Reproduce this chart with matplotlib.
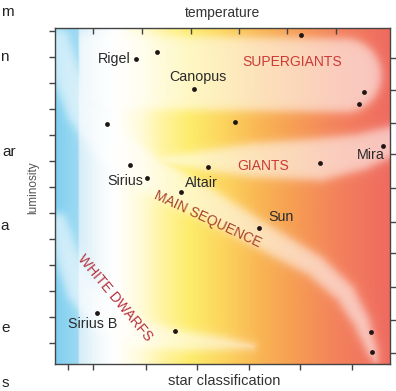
"""Hertzsprung-Russell style diagram: luminosity vs star classification."""
import matplotlib
matplotlib.use("Agg")
import matplotlib.pyplot as plt
import numpy as np
from matplotlib.colors import LinearSegmentedColormap

plt.rcParams["font.family"] = ["Liberation Sans", "DejaVu Sans"]

# stars: position on a 0..1 classification (x) / luminosity (y) scale
star_names = ["Rigel", "", "Canopus", "", "", "", "Sirius", "", "Altair", "",
              "", "", "Mira", "", "Sun", "", "", "Sirius B", ""]
star_x = [0.242, 0.304, 0.415, 0.155, 0.537, 0.224, 0.275, 0.457, 0.376, 0.734,
          0.922, 0.907, 0.979, 0.791, 0.609, 0.943, 0.946, 0.125, 0.358]
star_y = [0.908, 0.929, 0.818, 0.714, 0.720, 0.592, 0.554, 0.586, 0.512, 0.979,
          0.810, 0.774, 0.649, 0.598, 0.405, 0.095, 0.036, 0.152, 0.098]

region_names = ["SUPERGIANTS", "GIANTS", "MAIN SEQUENCE", "WHITE DWARFS"]

# label placement (offset in pixels, alignment) per named star
label_style = {
    "Rigel": ((-5, 0), "right"),
    "Canopus": ((4, 12), "center"),
    "Sirius": ((-4, -3), "right"),
    "Altair": ((4, 9), "left"),
    "Mira": ((2, -9), "right"),
    "Sun": ((9, 11), "left"),
    "Sirius B": ((-4, -11), "center"),
}

W, H = 396, 391
fig = plt.figure(figsize=(W / 100, H / 100), dpi=100)
ax = fig.add_axes([55 / W, 1 - 364 / H, 335 / W, 336 / H])

# background temperature gradient
stops = [(0.0, "#80cff0"), (0.063, "#9bd9f2"), (0.072, "#d6eef8"),
         (0.134, "#f4fafc"), (0.179, "#ffffff"), (0.254, "#fffbd8"),
         (0.328, "#fff39a"), (0.403, "#fdec6a"), (0.507, "#fcd35c"),
         (0.612, "#f9b553"), (0.731, "#f69a54"), (0.851, "#f3805c"),
         (1.0, "#ef6b60")]
cmap = LinearSegmentedColormap.from_list("temp", stops)
gx = np.linspace(0, 1, 335)
gy = np.linspace(0, 1, 336)
X, Y = np.meshgrid(gx, gy)
bg = cmap(X)[..., :3]


def band(pts, hws, n=300):
    pts = np.asarray(pts)
    t = np.linspace(0, 1, len(pts))
    ts = np.linspace(0, 1, n)
    cx = np.interp(ts, t, pts[:, 0])
    cy = np.interp(ts, t, pts[:, 1])
    hw = np.interp(ts, t, hws)
    best = np.full(X.shape, -1.0)
    for i in range(n):
        best = np.maximum(best, hw[i] - np.hypot(X - cx[i], Y - cy[i]))
    return 1 / (1 + np.exp(-best / 0.008))


sg = band([(0.069, 0.872), (0.866, 0.860)], [0.110, 0.110])
sg *= 1 / (1 + np.exp(-(X - 0.072) / 0.003))
gi = band([(0.299, 0.607), (0.433, 0.607), (0.597, 0.607), (0.791, 0.610),
           (0.910, 0.631), (1.015, 0.667)],
          [0.003, 0.027, 0.051, 0.063, 0.054, 0.042])
ms = band([(0.006, 0.964), (0.033, 0.860), (0.081, 0.756), (0.164, 0.652),
           (0.284, 0.5625), (0.433, 0.488), (0.618, 0.381), (0.776, 0.292),
           (0.866, 0.211), (0.916, 0.125), (0.949, 0.036), (0.958, 0.012)],
          [0.036, 0.042, 0.048, 0.054, 0.054, 0.048, 0.039, 0.033, 0.030,
           0.024, 0.015, 0.006])
wd = band([(0.009, 0.423), (0.033, 0.324), (0.075, 0.220), (0.149, 0.137),
           (0.254, 0.086), (0.388, 0.068), (0.507, 0.060), (0.588, 0.051)],
          [0.024, 0.036, 0.042, 0.045, 0.039, 0.030, 0.018, 0.006])
alpha = 0.6 * np.maximum.reduce([sg, gi, ms, wd])[..., None]
img = bg * (1 - alpha) + alpha
ax.imshow(img, extent=(0, 1, 0, 1), origin="lower", aspect="auto",
          interpolation="bilinear", zorder=0)

# stars
ax.scatter(star_x, star_y, s=12, color="#1e1515", zorder=3, linewidths=0)
for name, x, y in zip(star_names, star_x, star_y):
    if not name:
        continue
    (dx, dy), ha = label_style[name]
    ax.annotate(name, (x, y), xytext=(dx, dy), textcoords="offset pixels",
                ha=ha, va="center", fontsize=10.3, color="#2a2a2a", zorder=4)

# region labels
ax.text(0.708, 0.900, region_names[0], color="#cc3b36", fontsize=10,
        ha="center", va="center")
ax.text(0.621, 0.589, region_names[1], color="#cc3b36", fontsize=10,
        ha="center", va="center")
ax.text(0.457, 0.432, region_names[2], color="#a8432a", fontsize=10,
        ha="center", va="center", rotation=-25, rotation_mode="anchor")
ax.text(0.179, 0.196, region_names[3], color="#b8303e", fontsize=10,
        ha="center", va="center", rotation=-50, rotation_mode="anchor")

ax.set_xlim(0, 1)
ax.set_ylim(0, 1)
for sp in ax.spines.values():
    sp.set_color("#444444")
    sp.set_linewidth(1.0)

ax.set_xticks([0.039, 0.113, 0.272, 0.424, 0.579, 0.731, 0.887])
ax.set_yticks(0.0625 + 0.0775 * np.arange(13))
ax.set_xticklabels([])
ax.set_yticklabels([])
ax.tick_params(direction="out", length=4, width=1, color="#444444")

top = ax.secondary_xaxis("top")
top.set_xticks([0.113, 0.260, 0.406, 0.549, 0.693, 0.839])
top.set_xticklabels([])
top.tick_params(direction="in", length=4, width=1, color="#444444")
top.spines["top"].set_visible(False)

right = ax.secondary_yaxis("right")
right.set_yticks([0.033, 0.131, 0.229, 0.330, 0.423, 0.524, 0.625, 0.717,
                  0.815, 0.911])
right.set_yticklabels([])
right.tick_params(direction="out", length=4, width=1, color="#444444")
right.spines["right"].set_visible(False)

# axis titles
fig.text(222 / W, 1 - 13 / H, "temperature", ha="center", va="center",
         fontsize=10, color="#333333")
fig.text(224 / W, 1 - 381 / H, "star classification", ha="center",
         va="center", fontsize=10.5, color="#333333")
fig.text(33 / W, 1 - 188 / H, "luminosity", ha="center", va="center",
         rotation=90, fontsize=8.5, color="#555555")

# fragments of neighbouring page text at the left margin
for txt, xr, yc in [("m", 14, 12), ("n", 9, 57), ("ar", 16, 152),
                    ("a", 9, 226), ("e", 10, 328), ("s", 9, 383)]:
    fig.text(xr / W, 1 - yc / H, txt, ha="right", va="center", fontsize=11,
             color="#222222")

fig.savefig("out.png", dpi=100)
